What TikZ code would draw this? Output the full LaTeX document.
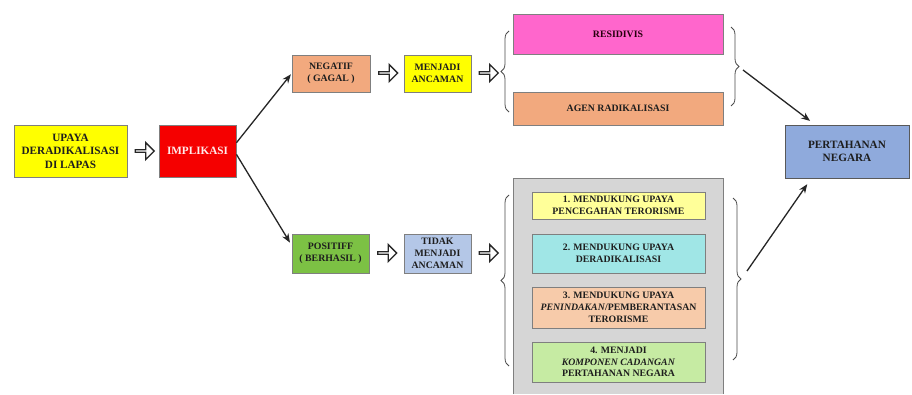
\documentclass[tikz,border=0pt]{standalone}
\usepackage{fontspec}
\setmainfont{Liberation Serif}[BoldFont={Liberation Serif Bold},ItalicFont={Liberation Serif Italic},BoldItalicFont={Liberation Serif Bold Italic}]
\usetikzlibrary{shapes.arrows,decorations.pathreplacing,arrows.meta}
\definecolor{cYel}{HTML}{FFFF00}
\definecolor{cRed}{HTML}{F50000}
\definecolor{cSalm}{HTML}{F2A97E}
\definecolor{cMag}{HTML}{FF66CC}
\definecolor{cBlue}{HTML}{8FAADC}
\definecolor{cGrn}{HTML}{7CC144}
\definecolor{cLBlue}{HTML}{B4C7E7}
\definecolor{cGray}{HTML}{D6D6D6}
\definecolor{cB1}{HTML}{FFFF99}
\definecolor{cB2}{HTML}{A0E6E6}
\definecolor{cB3}{HTML}{F7CBAA}
\definecolor{cB4}{HTML}{C6EBA3}
\definecolor{cEdge}{HTML}{7F7F7F}
\definecolor{cTxt}{HTML}{1E1E1E}
\begin{document}
\begin{tikzpicture}[x=1pt,y=-1pt,
  box/.style={draw=cEdge,line width=0.9pt,rectangle,inner sep=1pt,align=center,
    text=cTxt,font=\bfseries\fontsize{9.8}{11.8}\selectfont},
  bigtext/.style={font=\bfseries\fontsize{11.2}{13.5}\selectfont},
  hollow/.style={single arrow,draw=black!85,fill=white,line width=1.3pt,
    minimum height=19pt,minimum width=17pt,single arrow head extend=3.5pt,inner sep=0pt},
  conn/.style={draw=black!85,line width=1.3pt,-{Stealth[length=9pt,width=7pt]}},
  curly/.style={draw=black!70,line width=0.8pt,decorate,decoration={brace,amplitude=8pt}}]
\useasboundingbox (0,0) rectangle (912,394);
\fill[white] (0,0) rectangle (912,394);
% gray panel
\fill[cGray] (513,178) rectangle (723,394);
\draw[cEdge,line width=0.9pt] (513,394) -- (513,178) -- (723,178) -- (723,394);
% main boxes
\node[box,bigtext,fill=cYel,minimum width=113pt,minimum height=52pt] (upaya) at (70.5,151) {UPAYA\\DERADIKALISASI\\DI LAPAS};
\node[box,bigtext,fill=cRed,text=red!8,minimum width=77pt,minimum height=52pt] (impl) at (197.5,151) {IMPLIKASI};
\node[box,fill=cSalm,minimum width=78pt,minimum height=37pt] (neg) at (331,73.5) {NEGATIF\\( GAGAL )};
\node[box,fill=cYel,minimum width=67pt,minimum height=37pt] (menj) at (437.5,73.5) {MENJADI\\ANCAMAN};
\node[box,fill=cMag,text=black!80!purple,minimum width=210pt,minimum height=40pt] (resid) at (618,34) {RESIDIVIS};
\node[box,fill=cSalm,minimum width=210pt,minimum height=33pt] (agen) at (618,108.5) {AGEN RADIKALISASI};
\node[box,bigtext,fill=cBlue,draw=black!65,minimum width=124pt,minimum height=53pt] (pert) at (847,151.5) {PERTAHANAN\\NEGARA};
\node[box,fill=cGrn,minimum width=77pt,minimum height=39pt] (pos) at (330.5,253.5) {POSITIFF\\( BERHASIL )};
\node[box,fill=cLBlue,minimum width=67pt,minimum height=39pt] (tidak) at (437.5,253.5) {TIDAK\\MENJADI\\ANCAMAN};
\node[box,fill=cB1,minimum width=173pt,minimum height=27pt] (b1) at (618.5,205.5) {1. MENDUKUNG UPAYA\\PENCEGAHAN TERORISME};
\node[box,fill=cB2,minimum width=173pt,minimum height=39pt] (b2) at (618.5,253.5) {2. MENDUKUNG UPAYA\\DERADIKALISASI};
\node[box,fill=cB3,minimum width=173pt,minimum height=41pt] (b3) at (618.5,307.5) {3. MENDUKUNG UPAYA\\\textit{PENINDAKAN}/PEMBERANTASAN\\TERORISME};
\node[box,fill=cB4,minimum width=173pt,minimum height=40pt] (b4) at (618.5,362) {4. MENJADI\\\textit{KOMPONEN CADANGAN}\\PERTAHANAN NEGARA};
% hollow arrows
\node[hollow] (h1) at (144,151) {};
\node[hollow] (h2) at (387.5,73) {};
\node[hollow] (h3) at (488,73) {};
\node[hollow] (h4) at (386.5,253) {};
\node[hollow] (h5) at (488,253) {};
% braces
\draw[curly] (509,112) -- (509,31);
\draw[curly] (731,27) -- (731,106);
\draw[curly] (509,366) -- (509,195);
\draw[curly] (733,198) -- (733,360);
\coordinate (tipA) at (743,70);
\coordinate (tipB) at (747,271);
% connectors
\draw[conn,shorten >=1pt] (impl.12) -- (neg.west);
\draw[conn,shorten >=3pt] (impl.-5) -- (pos.168);
\draw[conn,shorten >=6pt] (tipA) -- (pert.140);
\draw[conn,shorten >=7pt] (tipB) -- (pert.217);
\end{tikzpicture}
\end{document}
